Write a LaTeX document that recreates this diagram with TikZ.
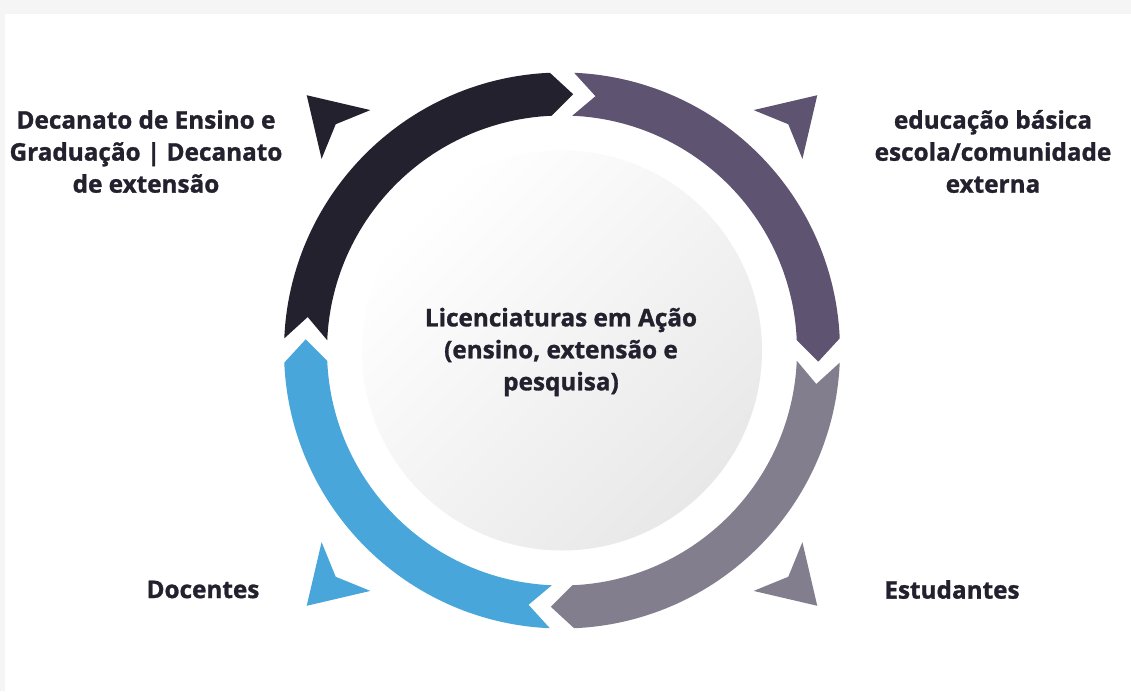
\documentclass[tikz,border=0pt]{standalone}
\usepackage{fontspec}
\setmainfont{Open Sans}[BoldFeatures={FakeBold=1.2}]
\definecolor{cdark}{HTML}{24212F}
\definecolor{cpurple}{HTML}{5E5370}
\definecolor{cgrey}{HTML}{837E8E}
\definecolor{cblue}{HTML}{48A6DA}
\tikzset{
  lbl/.style={align=center, text=cdark, font=\fontsize{24.3}{32}\selectfont\bfseries},
}
\begin{document}
\begin{tikzpicture}[x=1pt, y=1pt, line join=round]
  \def\Ro{278} \def\Ri{235} \def\Rm{256.5} % raios do anel
  % fundo
  \fill[black!4] (-562,-340.5) rectangle (569,350.5);
  \fill[white] (-557,-340.5) rectangle (569,336.5);
  \useasboundingbox (-562,-340.5) rectangle (569,350.5);
  % circulo central
  \shade[top color=white, middle color=white, bottom color=black!9, shading angle=45] (0,0) circle (200);
  % anel: angulo da cauda / cor
  \foreach \t/\c in {177.5/cdark, 87.5/cpurple, -2.5/cgrey, -92.5/cblue}{
    \fill[\c] (\t:\Ro) arc[start angle=\t, end angle=\t-85, radius=\Ro]
      -- (\t-90:\Rm) -- (\t-85:\Ri) arc[start angle=\t-85, end angle=\t, radius=\Ri]
      -- (\t-5:\Rm) -- cycle;
  }
  % setinhas de fora
  \foreach \d/\c in {135/cdark, 45/cpurple, -45/cgrey, -135/cblue}{
    \fill[\c, rotate=\d] (361,0) -- (305.5,34.5) -- (320,0) -- (305.5,-34.5) -- cycle;
  }
  \node[lbl] (core) at (-1,-1.5) {Licenciaturas em Ação\\(ensino, extensão e\\pesquisa)};
  \node[lbl] (dean) at (-416,199) {Decanato de Ensino e\\Graduação | Decanato\\de extensão};
  \node[lbl] (school) at (431,199) {educação básica\\escola/comunidade\\externa};
  \node[lbl] (teachers) at (-359,-239) {Docentes};
  \node[lbl] (students) at (390,-239) {Estudantes};
\end{tikzpicture}
\end{document}
